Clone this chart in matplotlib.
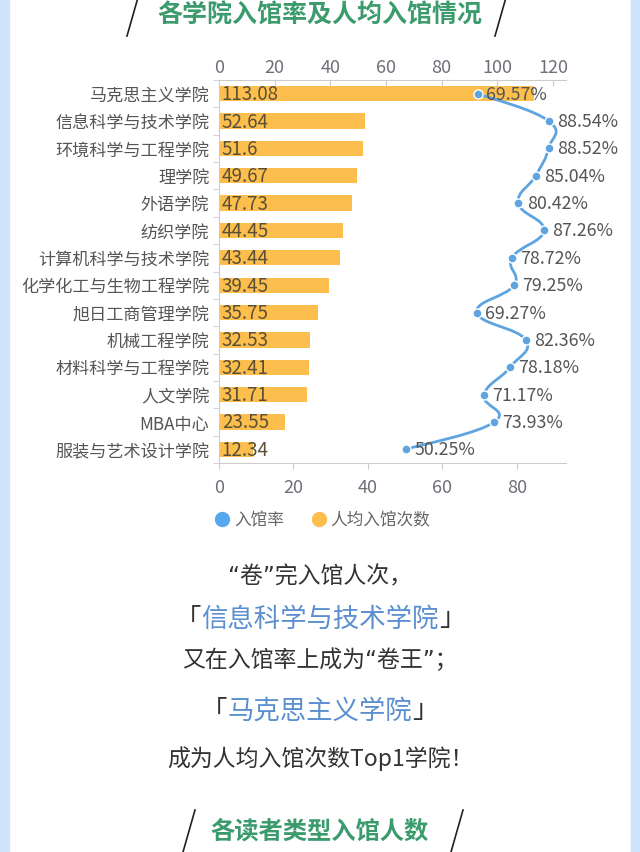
import matplotlib

matplotlib.use("Agg")
import matplotlib.pyplot as plt
import numpy as np
from matplotlib.lines import Line2D
from matplotlib.patches import PathPatch, Rectangle
from matplotlib.path import Path

plt.rcParams["font.family"] = ["Noto Sans CJK SC", "DejaVu Sans"]

COLLEGES = [
    "马克思主义学院", "信息科学与技术学院", "环境科学与工程学院", "理学院",
    "外语学院", "纺织学院", "计算机科学与技术学院", "化学化工与生物工程学院",
    "旭日工商管理学院", "机械工程学院", "材料科学与工程学院", "人文学院",
    "MBA中心", "服装与艺术设计学院",
]
VISITS = [113.08, 52.64, 51.6, 49.67, 47.73, 44.45, 43.44, 39.45,
          35.75, 32.53, 32.41, 31.71, 23.55, 12.34]
RATES = [69.57, 88.54, 88.52, 85.04, 80.42, 87.26, 78.72, 79.25,
         69.27, 82.36, 78.18, 71.17, 73.93, 50.25]
BAR_TICKS = [0, 20, 40, 60, 80, 100, 120]
RATE_TICKS = [0, 20, 40, 60, 80]
LEGEND = ["入馆率", "人均入馆次数"]

W, H = 640, 853
BAR = "#fcbf4e"
LINE = "#5ea4e0"
GREEN = "#3b9b6d"
BLUE = "#5b8fd0"
TEXT = "#333333"
LABEL = "#555555"
AXIS = "#cccccc"
EDGE = "#cfe4fb"
QUOTE_FONT = ["DejaVu Sans", "Noto Sans CJK SC"]


def fx(px):
    return px / W


def fy(py):
    return 1 - py / H


fig = plt.figure(figsize=(6.4, 8.53), dpi=100)
fig.patch.set_facecolor("white")

# light blue side strips
fig.add_artist(Rectangle((0, 0), fx(9), 1, transform=fig.transFigure, color=EDGE, zorder=0))
fig.add_artist(Rectangle((fx(631), 0), fx(9), 1, transform=fig.transFigure, color=EDGE, zorder=0))


def section_title(text, y, x_left, x_right, size):
    fig.text(0.5, fy(y), text, ha="center", va="center", color=GREEN,
             fontsize=size, fontweight="bold")
    for x0 in (x_left, x_right):
        fig.add_artist(Line2D([fx(x0 + 6), fx(x0 - 6)], [fy(y - 21), fy(y + 21)],
                              color="#222222", lw=1.2, transform=fig.transFigure))


section_title("各学院入馆率及人均入馆情况", 16, 133, 501, 18)
section_title("各读者类型入馆人数", 832, 189, 457, 17.5)

# chart
n = len(COLLEGES)
y = np.arange(n)
ax = fig.add_axes([fx(219), fy(464), fx(347), 383 / H])
ax.barh(y, VISITS, height=0.56, color=BAR, zorder=2)
ax.set_xlim(0, 124.7)
ax.set_ylim(n - 0.5, -0.5)
ax.set_yticks(y)
ax.set_yticklabels(COLLEGES)
ax.set_yticks(np.arange(-0.5, n), minor=True)
ax.tick_params(axis="y", which="major", length=0, pad=7, labelsize=12.3, labelcolor=LABEL)
ax.tick_params(axis="y", which="minor", length=4, color=AXIS)

for i, v in enumerate(VISITS):
    ax.text(1.0, i, f"{v:g}", va="center", ha="left", fontsize=13.5, color="#5b4f35", zorder=3)

ax2 = ax.twiny()
ax2.set_xlim(0, 93.2)
ax2.set_ylim(n - 0.5, -0.5)
ax2.xaxis.set_ticks_position("bottom")
ax2.xaxis.set_label_position("bottom")
ax2.set_xticks(RATE_TICKS)
ax2.tick_params(axis="x", length=4, color=AXIS, pad=7, labelsize=13, labelcolor="#6e7079")
for side in ("top", "left", "right"):
    ax2.spines[side].set_visible(False)
ax2.spines["bottom"].set_color(AXIS)

# bar axis ticks on top (after twiny, which moves them)
ax.xaxis.set_ticks_position("top")
ax.xaxis.set_label_position("top")
ax.set_xticks(BAR_TICKS)
ax.tick_params(axis="x", length=4, direction="in", color=AXIS, pad=3,
               labelsize=13, labelcolor="#6e7079")
for side in ("right", "bottom"):
    ax.spines[side].set_visible(False)
for side in ("top", "left"):
    ax.spines[side].set_color(AXIS)

# smooth line through the rate points (cardinal spline as bezier)
pts = np.column_stack([RATES, y]).astype(float)
t = 0.22
verts = [pts[0]]
codes = [Path.MOVETO]
for i in range(n - 1):
    p0 = pts[max(i - 1, 0)]
    p1 = pts[i]
    p2 = pts[i + 1]
    p3 = pts[min(i + 2, n - 1)]
    verts += [p1 + (p2 - p0) * t, p2 - (p3 - p1) * t, p2]
    codes += [Path.CURVE4] * 3
ax2.add_patch(PathPatch(Path(verts, codes), fill=False, edgecolor=LINE, lw=2, zorder=4))
ax2.plot(RATES, y, "o", ms=6.5, mfc=LINE, mec="white", mew=1, zorder=5)
for i, r in enumerate(RATES):
    ax2.annotate(f"{r:.2f}%", (r, i), xytext=(6, 0), textcoords="offset points",
                 va="center", ha="left", fontsize=12.8, color=LABEL, zorder=6)

handles = [
    Line2D([], [], ls="none", marker="o", ms=10, color="#55a7ee"),
    Line2D([], [], ls="none", marker="o", ms=10, color=BAR),
]
fig.legend(handles, LEGEND, loc="center", bbox_to_anchor=(fx(322), fy(521)), ncol=2,
           frameon=False, fontsize=12, labelcolor="#666666", handletextpad=0.2,
           columnspacing=1.6, handlelength=1.0)

# text block
fig.text(0.5, fy(577), "“卷”完入馆人次，", ha="center", va="center", fontsize=16.5,
         color=TEXT, family=QUOTE_FONT)
fig.text(0.5, fy(660), "又在入馆率上成为“卷王”；", ha="center", va="center", fontsize=16.5,
         color=TEXT, family=QUOTE_FONT)
fig.text(0.5, fy(759), "成为人均入馆次数Top1学院！", ha="center", va="center", fontsize=16.5,
         color=TEXT)

for name, yy in (("信息科学与技术学院", 619), ("马克思主义学院", 711)):
    t_mid = fig.text(0.5, fy(yy), name, ha="center", va="center", fontsize=19, color=BLUE)
    ax.annotate("「", xy=(0, 0.5), xycoords=t_mid, ha="right", va="center",
                fontsize=19, color=TEXT, annotation_clip=False)
    ax.annotate("」", xy=(1, 0.5), xycoords=t_mid, ha="left", va="center",
                fontsize=19, color=TEXT, annotation_clip=False)

fig.savefig("out.png", dpi=100, facecolor="white")
